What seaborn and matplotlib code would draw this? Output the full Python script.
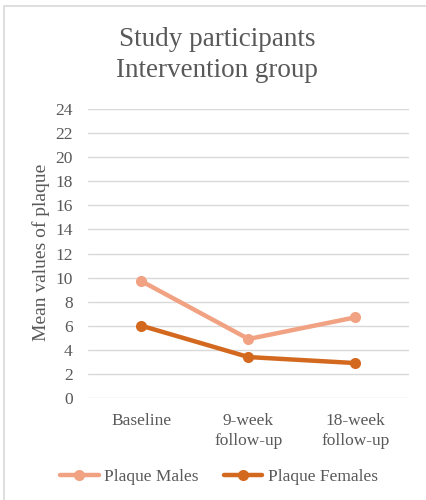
import matplotlib
matplotlib.use("Agg")
import matplotlib.pyplot as plt
import seaborn as sns
import pandas as pd
from matplotlib.patches import Rectangle

# Chart data
timepoints = ["Baseline", "9-week\nfollow-up", "18-week\nfollow-up"]
plaque_males = [9.7, 4.9, 6.7]
plaque_females = [6.0, 3.4, 2.9]
series_names = ["Plaque Males", "Plaque Females"]
y_ticks = list(range(0, 25, 2))

df = pd.DataFrame({
    "timepoint": timepoints * 2,
    "value": plaque_males + plaque_females,
    "series": [series_names[0]] * 3 + [series_names[1]] * 3,
})
df["x"] = [0, 1, 2] * 2

sns.set_theme(style="white")
plt.rcParams["font.family"] = ["Liberation Serif", "DejaVu Serif"]
text_color = "#595959"
grid_color = "#D9D9D9"
palette = {series_names[0]: "#F1A282", series_names[1]: "#D2691F"}

fig = plt.figure(figsize=(4.27, 5.0), dpi=100)
ax = fig.add_axes([88 / 427, 1 - 398 / 500, (409 - 88) / 427, (398 - 109) / 500])

sns.lineplot(
    data=df, x="x", y="value", hue="series", palette=palette,
    marker="o", markersize=8, markeredgewidth=0, linewidth=3.2,
    sort=False, ax=ax, legend=False, clip_on=False,
)

ax.set_xlim(-0.5, 2.5)
ax.set_ylim(0, 24)
ax.set_yticks(y_ticks)
ax.set_yticklabels([str(t) for t in y_ticks], fontsize=12.5, color=text_color)
ax.set_xticks([0, 1, 2])
ax.set_xticklabels(timepoints, fontsize=12.5, color=text_color, linespacing=1.35)
ax.tick_params(axis="y", length=0, pad=11)
ax.tick_params(axis="x", length=0, pad=11)
ax.yaxis.grid(True, color=grid_color, linewidth=1)
ax.set_axisbelow(True)
for s in ax.spines.values():
    s.set_visible(False)
ax.set_xlabel("")
ax.set_ylabel("Mean values of plaque", fontsize=14, color=text_color)
ax.yaxis.set_label_coords((50 - 88) / (409 - 88), (398 - 252) / (398 - 109))

fig.text(217 / 427, 1 - 55 / 500, "Study participants\nIntervention group",
         ha="center", va="center", fontsize=19.5, color=text_color, linespacing=1.35)

handles = [
    plt.Line2D([], [], color=palette[n], marker="o", markersize=8,
               markeredgewidth=0, linewidth=3.2)
    for n in series_names
]
fig.legend(handles, series_names, loc="center", bbox_to_anchor=(219 / 427, 1 - 477 / 500),
           ncol=2, frameon=False, fontsize=12.5, handlelength=2.2,
           handletextpad=0.3, columnspacing=1.5, labelcolor=text_color)

# Chart border
fig.patches.append(Rectangle((4 / 427, -0.1), 1.2, 1 - 6 / 500 + 0.1,
                             transform=fig.transFigure, fill=False,
                             edgecolor="#D9D9D9", linewidth=1.2))

fig.savefig("out.png", dpi=100, facecolor="white")
